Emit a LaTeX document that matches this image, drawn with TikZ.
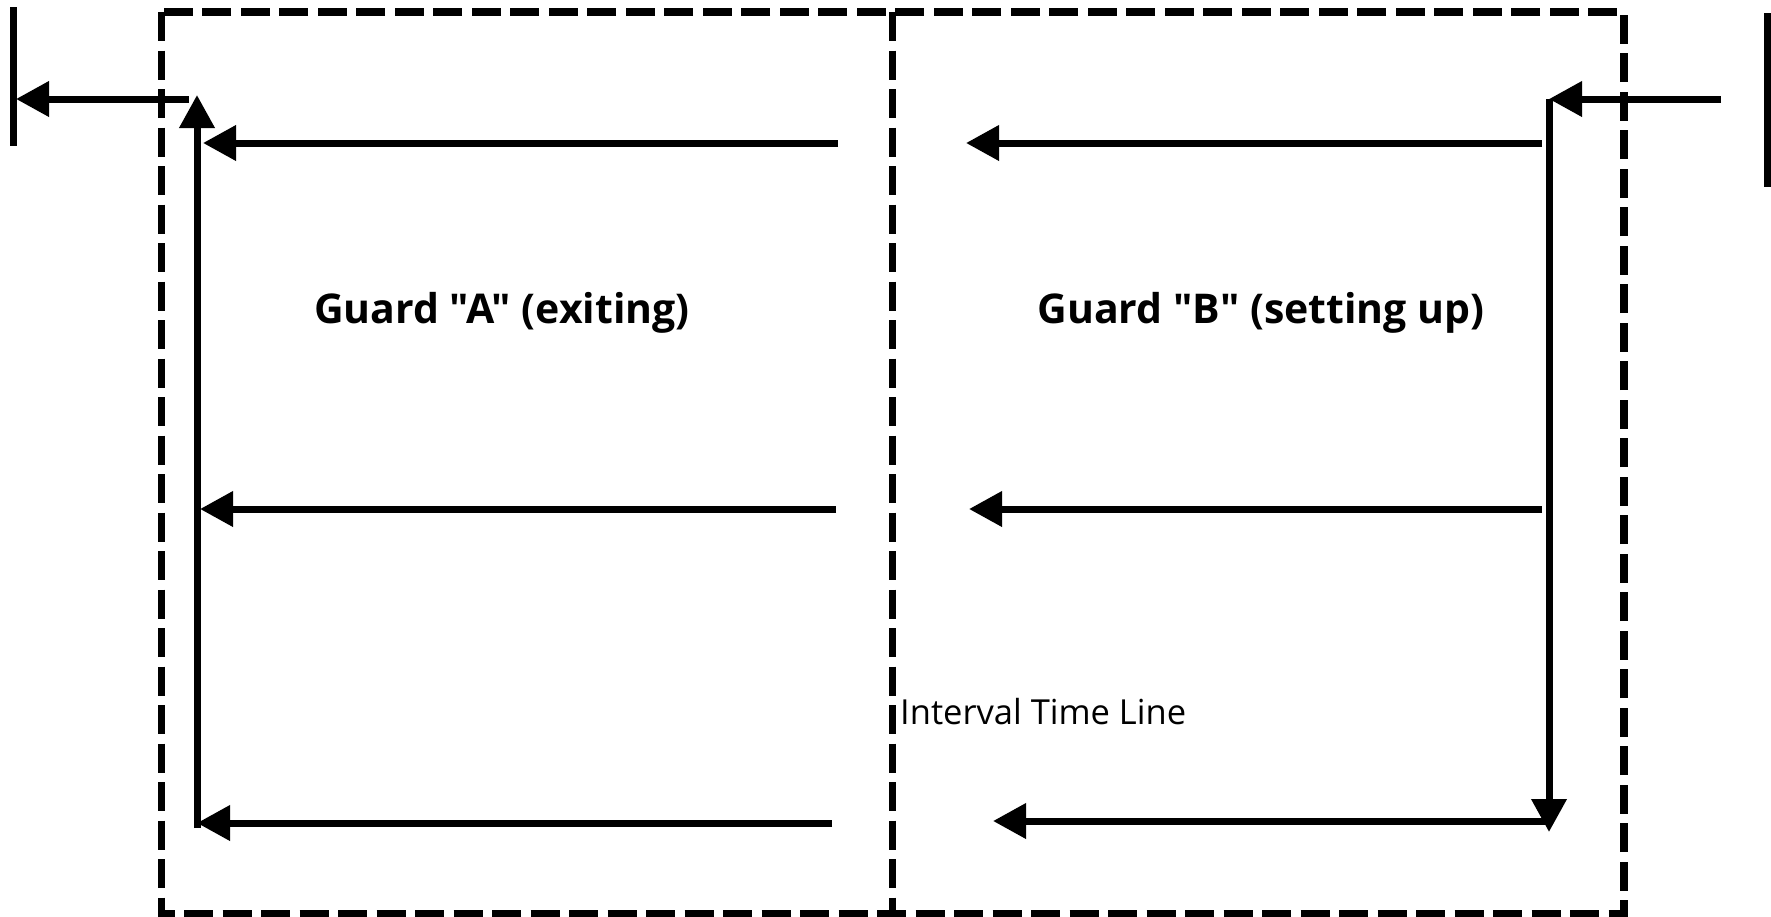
\documentclass[tikz,border=0pt]{standalone}
\usepackage{fontspec}
\setmainfont{Open Sans}[Ligatures=TeXOff]
\usetikzlibrary{arrows.meta}
\begin{document}
\begin{tikzpicture}[x=1pt,y=-1pt,
  frame/.style={line width=7.3pt, dash pattern=on 29pt off 9.5pt},
  arr/.style={line width=7pt, -{Triangle[length=33pt,width=34pt]}},
  bar/.style={line width=7pt},
  title/.style={font=\fontsize{41}{48}\selectfont\bfseries, inner sep=0pt, anchor=base},
  lbl/.style={font=\fontsize{34.5}{40}\selectfont, inner sep=0pt, anchor=base west}]
\useasboundingbox (0,0) rectangle (1771,916);
% frame
\coordinate (tl) at (161.5,12);
\coordinate (br) at (1624,913.5);
\coordinate (mt) at (892.5,12);
\coordinate (mb) at (892.5,913.5);
\draw[frame] (tl) rectangle (br);
\draw[frame] (mt) -- (mb);
% end bars
\coordinate (lb1) at (13,7);
\coordinate (lb2) at (13,146);
\coordinate (rb1) at (1767,13);
\coordinate (rb2) at (1767,187);
\draw[bar] (lb1) -- (lb2);
\draw[bar] (rb1) -- (rb2);
% outer arrows
\coordinate (oa1) at (189,99);
\coordinate (oa2) at (16,99);
\coordinate (ob1) at (1721,99);
\coordinate (ob2) at (1549,99);
\draw[arr] (oa1) -- (oa2);
\draw[arr] (ob1) -- (ob2);
% vertical arrows
\coordinate (va1) at (197,828);
\coordinate (va2) at (197,95);
\coordinate (vb1) at (1549,99);
\coordinate (vb2) at (1549,832);
\draw[arr] (va1) -- (va2);
\draw[arr] (vb1) -- (vb2);
% left half arrows
\coordinate (a1s) at (838,143); \coordinate (a1e) at (203,143);
\coordinate (a2s) at (836,509); \coordinate (a2e) at (200,509);
\coordinate (a3s) at (832,823); \coordinate (a3e) at (197,823);
\draw[arr] (a1s) -- (a1e);
\draw[arr] (a2s) -- (a2e);
\draw[arr] (a3s) -- (a3e);
% right half arrows
\coordinate (b1s) at (1542,143); \coordinate (b1e) at (966,143);
\coordinate (b2s) at (1542,509); \coordinate (b2e) at (969,509);
\coordinate (b3s) at (1550,821); \coordinate (b3e) at (993,821);
\draw[arr] (b1s) -- (b1e);
\draw[arr] (b2s) -- (b2e);
\draw[arr] (b3s) -- (b3e);
% texts
\node[title] (ga) at (502,323) {Guard "A" (exiting)};
\node[title] (gb) at (1261,323) {Guard "B" (setting up)};
\node[lbl] (itl) at (900,724) {Interval Time Line};
\end{tikzpicture}
\end{document}
